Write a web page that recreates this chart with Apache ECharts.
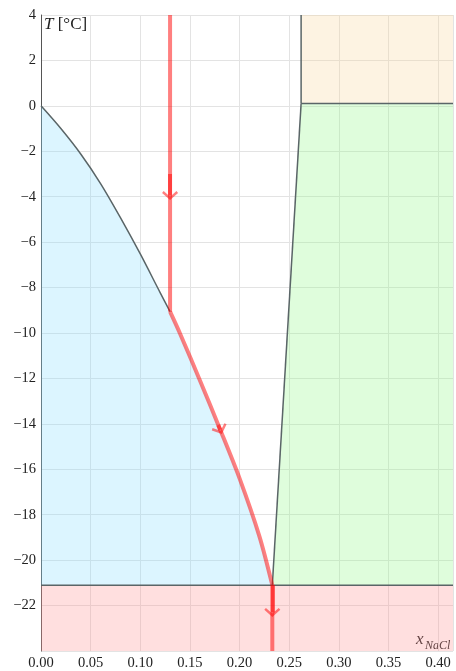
<!DOCTYPE html>
<html>
<head>
<meta charset="utf-8">
<script src="https://cdn.jsdelivr.net/npm/echarts@6/dist/echarts.min.js"></script>
<style>
html,body{margin:0;padding:0;background:#fff;overflow:hidden;}
#c{width:456px;height:671px;}
</style>
</head>
<body>
<div id="c"></div>
<script>
// ---- data ----
const xTicks = [0, 0.05, 0.10, 0.15, 0.20, 0.25, 0.30, 0.35, 0.40];
const yTicks = [4, 2, 0, -2, -4, -6, -8, -10, -12, -14, -16, -18, -20, -22];
const xMin = 0, xMax = 0.415, yMin = -24, yMax = 4;
const liquidusX = [0, 0.02, 0.04, 0.06, 0.08, 0.10, 0.12, 0.13, 0.14, 0.16, 0.18, 0.20, 0.22, 0.233];
const liquidusT = [0, -1.0, -2.12, -3.42, -4.92, -6.52, -8.22, -9.06, -10.02, -12.08, -14.2, -16.4, -18.95, -21.1];
const eutecticX = 0.233, eutecticT = -21.1;
const peritecticX = 0.262, peritecticT = 0.1;
const coolX = 0.13, coolStartT = 4, coolEndT = -24;
const arrowA = [[0.13, -3.0], [0.13, -3.95]];
const arrowB = [[0.1785, -14.05], [0.1805, -14.26]];
const arrowC = [[0.233, -21.1], [0.233, -22.3]];

// ---- derived ----
const liq = liquidusX.map((x, i) => [x, liquidusT[i]]);
const liqGrey = liq.filter(p => p[0] <= coolX + 1e-9);
const liqRed = liq.filter(p => p[0] >= coolX - 1e-9);

const polys = {
  pink: [[xMin, eutecticT], [xMax, eutecticT], [xMax, yMin], [xMin, yMin]],
  green: [[eutecticX, eutecticT], [peritecticX, peritecticT], [xMax, peritecticT], [xMax, eutecticT]],
  orange: [[peritecticX, peritecticT], [peritecticX, yMax], [xMax, yMax], [xMax, peritecticT]]
};
const fills = {
  blue: 'rgba(138,223,255,0.3)',
  pink: 'rgba(255,150,150,0.3)',
  green: 'rgba(150,248,140,0.3)',
  orange: 'rgba(248,215,160,0.3)'
};

function polySeries(name) {
  return {
    type: 'custom', silent: true, z: 1, clip: true,
    data: [[0, 0]],
    renderItem: function (params, api) {
      return {
        type: 'polygon',
        shape: { points: polys[name].map(p => api.coord(p)) },
        style: { fill: fills[name], stroke: null }
      };
    }
  };
}
const grey = '#5a6567';
const SM = 0.3;
function greyLine(pts, smooth) {
  return {
    type: 'line', data: pts, showSymbol: false, silent: true, z: 3,
    smooth: smooth ? SM : false,
    lineStyle: { color: grey, width: 1.5 }, animation: false
  };
}
const red = 'rgba(255,0,0,0.5)';
function redLine(pts, smooth) {
  return {
    type: 'line', data: pts, showSymbol: false, silent: true, z: 4,
    smooth: smooth ? SM : false,
    lineStyle: { color: red, width: 4 }, animation: false
  };
}
const chevron = 'path://M0,0 L7,6 L5.6,7.6 L0,2.8 L-5.6,7.6 L-7,6 Z';

const fontFam = '"Liberation Serif", "DejaVu Serif", serif';
const chart = echarts.init(document.getElementById('c'), null, { width: 456, height: 671 });
const arrows = redLine([[coolX, coolStartT], [coolX, liqRed[0][1]]], false);
arrows.markLine = {
  silent: true, animation: false,
  symbol: ['none', chevron], symbolSize: [16, 9],
  label: { show: false },
  lineStyle: { color: red, width: 4, type: 'solid' },
  emphasis: { disabled: true },
  data: [arrowA, arrowB, arrowC].map(a => [{ coord: a[0] }, { coord: a[1] }])
};
chart.setOption({
  animation: false,
  backgroundColor: '#fff',
  grid: { left: 41, right: 0, top: 15, bottom: 16, containLabel: false },
  xAxis: {
    type: 'value', min: xMin, max: xMax, interval: 0.05,
    axisLine: { show: false }, axisTick: { show: false },
    splitLine: { show: true, lineStyle: { color: '#e3e3e3', width: 1 } },
    axisLabel: {
      margin: 5, color: '#222', fontFamily: fontFam, fontSize: 14.5,
      formatter: v => xTicks.some(t => Math.abs(t - v) < 1e-6) ? v.toFixed(2) : ''
    }
  },
  yAxis: {
    type: 'value', min: yMin, max: yMax, interval: 2,
    axisLine: { show: true, onZero: false, lineStyle: { color: '#555', width: 1 } },
    axisTick: { show: false },
    splitLine: { show: true, lineStyle: { color: '#e3e3e3', width: 1 } },
    axisLabel: {
      margin: 5, color: '#222', fontFamily: fontFam, fontSize: 14.5,
      formatter: v => yTicks.indexOf(v) >= 0 ? (v < 0 ? '\u2212' + Math.abs(v) : String(v)) : ''
    }
  },
  series: [
    polySeries('pink'), polySeries('green'), polySeries('orange'),
    {
      type: 'line', data: liq, showSymbol: false, silent: true, z: 1,
      smooth: SM,
      lineStyle: { width: 0, opacity: 0 },
      areaStyle: { color: fills.blue, origin: eutecticT, opacity: 1 }
    },
    greyLine(liqGrey, true),
    greyLine([[xMin, eutecticT], [xMax, eutecticT]], false),
    greyLine([[eutecticX, eutecticT], [peritecticX, peritecticT]], false),
    greyLine([[peritecticX, peritecticT], [xMax, peritecticT]], false),
    greyLine([[peritecticX, peritecticT], [peritecticX, yMax]], false),
    arrows,
    redLine(liqRed, true),
    redLine([[eutecticX, eutecticT], [eutecticX, coolEndT]], false)
  ],
  graphic: [
    {
      type: 'text', left: 44, top: 16, silent: true,
      style: {
        text: '{i|T} [°C]', font: '17px ' + fontFam, fill: '#222',
        rich: { i: { fontStyle: 'italic', fontSize: 17, fontFamily: fontFam, fill: '#222' } }
      }
    },
    {
      type: 'text', left: 416, top: 631, silent: true,
      style: { text: 'x', font: 'italic 17px ' + fontFam, fill: '#222' }
    },
    {
      type: 'text', left: 425, top: 640, silent: true,
      style: { text: 'NaCl', font: 'italic 12px ' + fontFam, fill: '#222' }
    }
  ]
});
</script>
</body>
</html>
